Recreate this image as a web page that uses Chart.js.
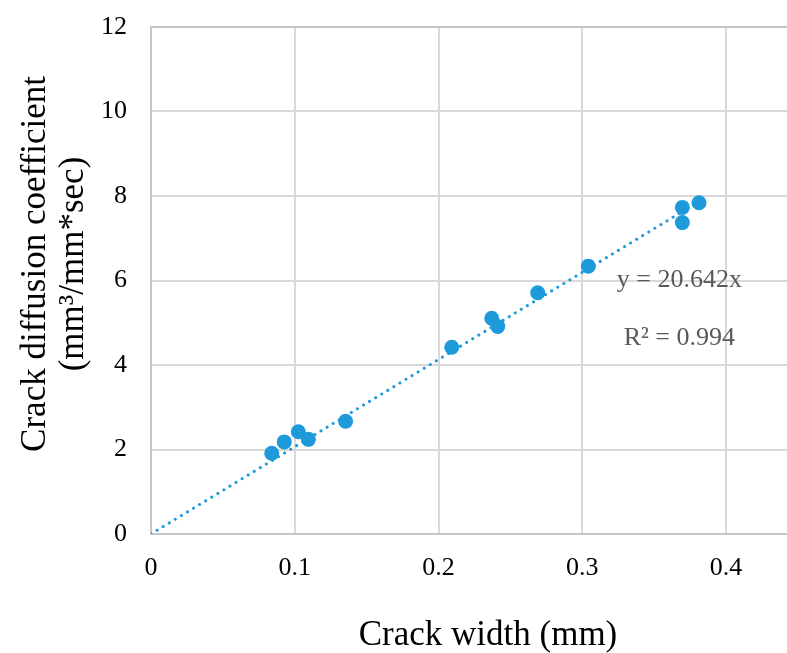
<!DOCTYPE html>
<html>
<head>
<meta charset="utf-8">
<script src="https://cdn.jsdelivr.net/npm/chart.js@4/dist/chart.umd.min.js"></script>
<style>
  html, body { margin: 0; padding: 0; background: #ffffff; }
  #wrap { width: 787px; height: 653px; position: relative; }
</style>
</head>
<body>
<div id="wrap"><canvas id="c" width="787" height="653"></canvas></div>
<script>
// ---- data ----
const crackWidth = [0.084, 0.0927, 0.1025, 0.1095, 0.1354, 0.2092, 0.237, 0.2412, 0.269, 0.3042, 0.3696, 0.3696, 0.3812];
const diffusionCoef = [1.91, 2.18, 2.42, 2.24, 2.67, 4.42, 5.105, 4.91, 5.71, 6.34, 7.73, 7.37, 7.84];
const trendX = [0, 0.37];
const trendY = [0, 7.64];
const xTicks = [0, 0.1, 0.2, 0.3, 0.4];
const yTicks = [0, 2, 4, 6, 8, 10, 12];
const xTitle = 'Crack width (mm)';
const yTitleLines = ['Crack diffusion coefficient', '(mm³/mm*sec)'];
const equationText = 'y = 20.642x';
const r2Text = 'R² = 0.994';

const BLUE = '#1E9ADA';
const SERIF = '"Liberation Serif", "Times New Roman", serif';

const scatterPts = crackWidth.map((x, i) => ({ x: x, y: diffusionCoef[i] }));
const trendPts = trendX.map((x, i) => ({ x: x, y: trendY[i] }));

function noPad(scale) {
  scale.paddingTop = 0; scale.paddingBottom = 0;
  scale.paddingLeft = 0; scale.paddingRight = 0;
}

const textPlugin = {
  id: 'texts',
  afterDraw(chart) {
    const ctx = chart.ctx;
    const xs = chart.scales.x, ys = chart.scales.y;
    ctx.save();
    // equation annotation
    ctx.fillStyle = '#595959';
    ctx.font = '26px ' + SERIF;
    ctx.textAlign = 'center';
    ctx.textBaseline = 'middle';
    ctx.fillText(equationText, xs.getPixelForValue(0.3675), ys.getPixelForValue(6.0));
    ctx.fillText(r2Text, xs.getPixelForValue(0.3675), ys.getPixelForValue(4.63));
    // x axis title
    ctx.fillStyle = '#000000';
    ctx.font = '35px ' + SERIF;
    ctx.textBaseline = 'alphabetic';
    ctx.fillText(xTitle, 488, 645);
    // y axis title (rotated)
    ctx.translate(0, 264);
    ctx.rotate(-Math.PI / 2);
    ctx.fillText(yTitleLines[0], 0, 45);
    ctx.fillText(yTitleLines[1], 0, 83);
    ctx.restore();
  }
};

new Chart(document.getElementById('c'), {
  type: 'scatter',
  data: {
    datasets: [
      {
        label: 'data',
        data: scatterPts,
        backgroundColor: BLUE,
        borderColor: BLUE,
        pointRadius: 7.5,
        pointHoverRadius: 7.5,
        borderWidth: 0,
        order: 0
      },
      {
        type: 'line',
        label: 'trend',
        data: trendPts,
        borderColor: BLUE,
        borderWidth: 3,
        borderDash: [0.1, 7],
        borderCapStyle: 'round',
        pointRadius: 0,
        fill: false,
        order: 1
      }
    ]
  },
  options: {
    responsive: false,
    animation: false,
    layout: { autoPadding: false, padding: { top: 27, left: 0, right: 0, bottom: 0 } },
    plugins: { legend: { display: false }, tooltip: { enabled: false } },
    scales: {
      x: {
        type: 'linear',
        min: 0,
        max: 0.4424,
        afterBuildTicks(scale) { scale.ticks = xTicks.map(v => ({ value: v })); },
        afterFit(scale) { scale.height = 119; noPad(scale); },
        ticks: {
          padding: 19,
          color: '#000000',
          font: { family: SERIF, size: 26 },
          callback: v => String(Math.round(v * 10) / 10)
        },
        grid: { color: '#d9d9d9', lineWidth: 2, drawTicks: false },
        border: { display: true, color: '#c6c6c6', width: 2 }
      },
      y: {
        type: 'linear',
        min: 0,
        max: 12,
        afterBuildTicks(scale) { scale.ticks = yTicks.map(v => ({ value: v })); },
        afterFit(scale) { scale.width = 151; noPad(scale); },
        ticks: {
          padding: 24,
          color: '#000000',
          font: { family: SERIF, size: 26 },
          callback: v => String(v)
        },
        grid: {
          color: ctx => (ctx.tick && ctx.tick.value === 12 ? '#c6c6c6' : '#d9d9d9'),
          lineWidth: 2,
          drawTicks: false
        },
        border: { display: true, color: '#c6c6c6', width: 2 }
      }
    }
  },
  plugins: [textPlugin]
});
</script>
</body>
</html>
